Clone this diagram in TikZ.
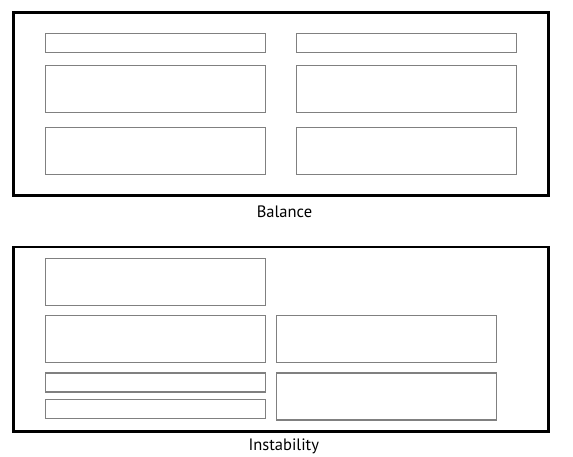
\documentclass[tikz,border=0pt]{standalone}
\usepackage{fontspec}
\setmainfont{PT Sans}
\usetikzlibrary{positioning}

\begin{document}
\begin{tikzpicture}[
    x=1pt, y=-1pt, node distance=10pt,
    frame/.style={draw=black, line width=2.4pt, anchor=north west, inner sep=0pt, outer sep=0pt},
    slot/.style={draw=black!50, line width=1.1pt, minimum width=220pt, inner sep=0pt, outer sep=0pt},
    thin slot/.style={slot, minimum height=19pt},
    wide slot/.style={slot, minimum height=47pt},
    caption/.style={anchor=base, font=\fontsize{16.5}{18}\selectfont}
]
    \useasboundingbox (0,0) rectangle (573,457);

    % Balance
    \node[frame, minimum width=535pt, minimum height=183pt] (BALANCE) at (13.5,12.7) {};
    \node[thin slot, anchor=north west] (B1L) at (45.7,33.3) {};
    \node[wide slot, below=13.3pt of B1L] (B2L) {};
    \node[wide slot, below=15pt of B2L] (B3L) {};
    \node[thin slot, right=31pt of B1L] (B1R) {};
    \node[wide slot, right=31pt of B2L] (B2R) {};
    \node[wide slot, right=31pt of B3L] (B3R) {};
    \node[caption] (BALTXT) at (284.5,217.5) {Balance};

    % Instability
    \node[frame, minimum width=535pt, minimum height=184pt] (INSTAB) at (13.5,247.3) {};
    \node[wide slot, anchor=north west] (I1L) at (45.7,258.3) {};
    \node[wide slot, below=10pt of I1L] (I2L) {};
    \node[thin slot, below=10.7pt of I2L] (I3L) {};
    \node[thin slot, below=7.3pt of I3L] (I4L) {};
    \node[wide slot, right=11pt of I2L] (I2R) {};
    \node[wide slot, below=10.7pt of I2R] (I3R) {};
    \node[caption] (INSTXT) at (283.8,450) {Instability};

\end{tikzpicture}
\end{document}
